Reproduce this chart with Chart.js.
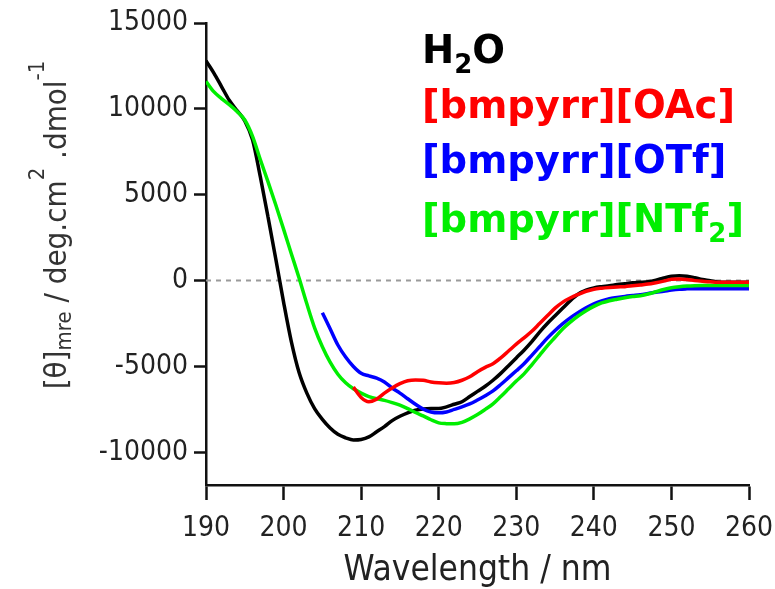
<!DOCTYPE html>
<html>
<head>
<meta charset="utf-8">
<script src="https://cdn.jsdelivr.net/npm/chart.js@4.4.0/dist/chart.umd.min.js"></script>
<style>
html, body { margin: 0; padding: 0; background: #fff; }
</style>
</head>
<body>
<canvas id="cd" width="775" height="589"></canvas>
<script>
// longitudes de onda (nm), un punto por nm
const wavelengths = [
    190, 191, 192, 193, 194, 195, 196, 197, 198, 199,
    200, 201, 202, 203, 204, 205, 206, 207, 208, 209,
    210, 211, 212, 213, 214, 215, 216, 217, 218, 219,
    220, 221, 222, 223, 224, 225, 226, 227, 228, 229,
    230, 231, 232, 233, 234, 235, 236, 237, 238, 239,
    240, 241, 242, 243, 244, 245, 246, 247, 248, 249,
    250, 251, 252, 253, 254, 255, 256, 257, 258, 259,
    260
];

// [θ]mre
const h2o = [
    12800, 12100, 11300, 10500, 9900, 9300, 8200, 6050, 3700, 1250,
    -1250, -3550, -5350, -6550, -7450, -8080, -8580, -8950, -9150, -9280,
    -9250, -9100, -8800, -8500, -8150, -7900, -7700, -7550, -7470, -7450,
    -7450, -7350, -7200, -7050, -6750, -6450, -6150, -5800, -5400, -4950,
    -4500, -4050, -3550, -3000, -2500, -2050, -1600, -1150, -780, -560,
    -420, -350, -300, -230, -180, -130, -100, -60, 30, 150,
    250, 290, 260, 170, 60, 0, -80, -100, -100, -100,
    -100
];

// empieza en 209 nm
const oac = [
    null, null, null, null, null, null, null, null, null, null,
    null, null, null, null, null, null, null, null, null, -6200,
    -6800, -7050, -6900, -6550, -6250, -6000, -5830, -5780, -5800, -5900,
    -5950, -5970, -5930, -5800, -5600, -5300, -5050, -4840, -4500, -4100,
    -3700, -3330, -2950, -2500, -2050, -1600, -1250, -1000, -800, -620,
    -500, -440, -400, -370, -350, -300, -250, -200, -120, -30,
    80, 100, 60, 0, -40, -70, -100, -100, -100, -100,
    -100
];

// empieza en 205 nm
const otf = [
    null, null, null, null, null, null, null, null, null, null,
    null, null, null, null, null, -1870, -2800, -3750, -4450, -5000,
    -5400, -5550, -5680, -5900, -6250, -6550, -6880, -7200, -7480, -7650,
    -7700, -7650, -7500, -7350, -7180, -6950, -6700, -6420, -6050, -5650,
    -5250, -4840, -4350, -3850, -3350, -2900, -2500, -2150, -1850, -1580,
    -1350, -1180, -1050, -980, -920, -870, -820, -750, -680, -620,
    -550, -500, -480, -470, -470, -470, -470, -470, -470, -470,
    -470
];

const ntf2 = [
    11600, 11000, 10600, 10250, 9850, 9350, 8400, 7050, 5750, 4400,
    3000, 1570, 150, -1350, -2750, -3850, -4750, -5450, -5950, -6300,
    -6550, -6750, -6880, -6970, -7100, -7250, -7450, -7680, -7880, -8100,
    -8280, -8330, -8340, -8250, -8050, -7800, -7500, -7180, -6750, -6300,
    -5850, -5430, -4900, -4350, -3800, -3300, -2800, -2400, -2050, -1750,
    -1500, -1300, -1170, -1080, -1000, -930, -875, -780, -650, -520,
    -420, -360, -320, -300, -290, -290, -290, -290, -290, -290,
    -290
];

// linea punteada en cero
const zeroX = [190, 260];
const zeroY = [0, 0];

const xTicks = [190, 200, 210, 220, 230, 240, 250, 260];
const yTicks = [-10000, -5000, 0, 5000, 10000, 15000];

const seriesColors = ["#000000", "#ff0000", "#0000ff", "#00ee00"];

// leyenda: [texto, esSubindice]
const legendRows = [
    [["H", 0], ["2", 1], ["O", 0]],
    [["[bmpyrr][OAc]", 0]],
    [["[bmpyrr][OTf]", 0]],
    [["[bmpyrr][NTf", 0], ["2", 1], ["]", 0]]
];

// titulo eje y: 0 normal, -1 subindice, 1 superindice
const yTitleParts = [["[θ]", 0], ["mre", -1], [" / deg.cm", 0], ["2", 1], [" .dmol", 0], ["-1", 1]];

const FAM = "'DejaVu Sans Condensed', 'Liberation Sans', sans-serif";

const puntos = (ys) => wavelengths.map((w, i) => ({ x: w, y: ys[i] }));

const textos = {
    id: "textos",
    afterDraw(chart) {
        const ctx = chart.ctx;
        ctx.save();
        ctx.textBaseline = "alphabetic";
        ctx.textAlign = "left";

        // leyenda a la derecha
        const bases = [63, 118, 173, 232];
        legendRows.forEach((row, i) => {
            let x = 422;
            ctx.fillStyle = seriesColors[i];
            row.forEach(([t, sub]) => {
                ctx.font = sub ? "bold 26px 'DejaVu Sans'" : "bold 38.5px 'DejaVu Sans'";
                ctx.fillText(t, x, sub ? bases[i] + 10 : bases[i]);
                x += ctx.measureText(t).width;
            });
        });

        // titulo del eje y, rotado
        const big = "31px " + FAM;
        const small = "22px " + FAM;
        let total = 0;
        yTitleParts.forEach(([t, k]) => {
            ctx.font = k ? small : big;
            total += ctx.measureText(t).width;
        });
        ctx.translate(66, 225);
        ctx.rotate(-Math.PI / 2);
        ctx.fillStyle = "#333";
        let x = -total / 2;
        yTitleParts.forEach(([t, k]) => {
            ctx.font = k ? small : big;
            const dy = k === -1 ? 5 : (k === 1 ? -22 : 0);
            ctx.fillText(t, x, dy);
            x += ctx.measureText(t).width;
        });
        ctx.restore();
    }
};

new Chart(document.getElementById("cd"), {
    type: "line",
    data: {
        datasets: [
            { label: "H2O", data: puntos(h2o), borderColor: seriesColors[0], order: 4 },
            { label: "[bmpyrr][OAc]", data: puntos(oac), borderColor: seriesColors[1], order: 1 },
            { label: "[bmpyrr][OTf]", data: puntos(otf), borderColor: seriesColors[2], order: 3 },
            { label: "[bmpyrr][NTf2]", data: puntos(ntf2), borderColor: seriesColors[3], order: 2 },
            {
                label: "cero",
                data: zeroX.map((x, i) => ({ x: x, y: zeroY[i] })),
                borderColor: "#9a9a9a", borderWidth: 2, borderDash: [5, 5], order: 5
            }
        ]
    },
    options: {
        responsive: false,
        animation: false,
        layout: { padding: { top: 23, right: 26, left: 0, bottom: 0 } },
        plugins: { legend: { display: false }, tooltip: { enabled: false } },
        elements: {
            point: { radius: 0 },
            line: { borderWidth: 3.5, cubicInterpolationMode: "monotone" }
        },
        scales: {
            x: {
                type: "linear",
                min: 190,
                max: 260,
                afterFit: (s) => { s.height = 104; s.paddingLeft = 0; s.paddingRight = 0; },
                afterBuildTicks: (s) => { s.ticks = xTicks.map(v => ({ value: v })); },
                grid: { drawOnChartArea: false, tickLength: 15, tickWidth: 2.5, tickColor: "#111" },
                border: { color: "#111", width: 2.5 },
                ticks: { font: { family: FAM, size: 28 }, color: "#222", padding: 12, maxRotation: 0 },
                title: {
                    display: true,
                    text: "Wavelength / nm",
                    font: { family: FAM, size: 35, lineHeight: 1.0 },
                    color: "#222",
                    padding: { top: 0, bottom: 1 }
                }
            },
            y: {
                min: -11900,
                max: 15000,
                afterFit: (s) => { s.width = 206; s.paddingTop = 0; s.paddingBottom = 0; },
                afterBuildTicks: (s) => { s.ticks = yTicks.map(v => ({ value: v })); },
                grid: { drawOnChartArea: false, tickLength: 12, tickWidth: 2.5, tickColor: "#111" },
                border: { color: "#111", width: 2.5 },
                ticks: { font: { family: FAM, size: 28 }, color: "#222", padding: 6, callback: (v) => String(v) }
            }
        }
    },
    plugins: [textos]
});
</script>
</body>
</html>
